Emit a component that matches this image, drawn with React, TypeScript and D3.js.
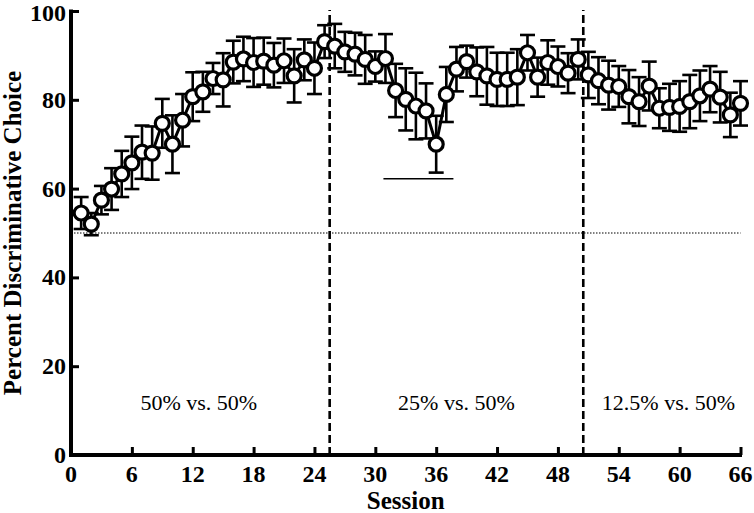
import React, { useEffect, useRef } from 'react';
import * as d3 from 'd3';

// mean percent discriminative choice per session (1..66)
const sessions = d3.range(1, 67);
const means = [
  54.5, 52.0, 57.4, 59.9, 63.3, 65.8, 68.2, 68.0, 74.7, 70.0,
  75.4, 80.7, 81.8, 84.8, 84.5, 88.5, 89.2, 88.4, 88.7, 87.8,
  88.8, 85.4, 89.0, 87.1, 93.1, 92.1, 90.8, 90.3, 89.1, 87.5,
  89.3, 82.1, 80.1, 78.6, 77.5, 70.0, 81.2, 86.9, 88.6, 86.3,
  85.4, 84.6, 84.6, 85.1, 90.6, 85.1, 88.4, 87.5, 86.0, 89.1,
  85.6, 84.3, 83.3, 83.0, 80.7, 79.6, 83.1, 78.1, 78.3, 78.5,
  79.6, 80.9, 82.4, 80.6, 76.6, 79.2,
];
const errors = [
  3.6, 2.5, 3.2, 4.7, 5.2, 5.9, 6.0, 6.0, 5.5, 6.5,
  5.9, 5.5, 4.5, 3.5, 6.0, 4.8, 5.0, 5.5, 5.3, 5.0,
  5.0, 6.0, 4.6, 5.8, 3.7, 5.0, 4.5, 4.8, 5.5, 3.4,
  5.5, 6.0, 7.0, 7.5, 6.2, 6.4, 6.2, 5.0, 3.6, 5.5,
  6.5, 6.0, 6.0, 6.3, 4.0, 4.4, 5.0, 4.5, 4.5, 4.5,
  5.2, 5.3, 5.5, 4.6, 6.0, 5.5, 5.5, 4.5, 5.3, 5.7,
  6.0, 5.7, 5.2, 5.7, 5.0, 5.0,
];

const xTicks = [0, 6, 12, 18, 24, 30, 36, 42, 48, 54, 60, 66];
const yTicks = [0, 20, 40, 60, 80, 100];
const phaseBreaks = [25.5, 50.5];
const phaseLabels = ['50% vs. 50%', '25% vs. 50%', '12.5% vs. 50%'];
const phaseLabelX = [12.6, 38.0, 58.9];
const chanceLevel = 50;
const sigLine = { from: 30.8, to: 37.7, value: 62.2 };

const FONT = "'Liberation Serif', 'Times New Roman', serif";

const App = () => {
  const svgRef = useRef<SVGSVGElement | null>(null);

  useEffect(() => {
    const width = 754;
    const height = 513;
    const svg = d3.select(svgRef.current);
    svg.selectAll('*').remove();
    svg.attr('width', width).attr('height', height);

    const x = d3.scaleLinear().domain([0, 66]).range([71, 740.5]);
    const y = d3.scaleLinear().domain([0, 100]).range([455, 11]);

    const g = svg.append('g');

    // chance line
    g.append('line')
      .attr('x1', x(0)).attr('x2', x(66))
      .attr('y1', y(chanceLevel)).attr('y2', y(chanceLevel))
      .attr('stroke', '#000').attr('stroke-width', 1.2)
      .attr('stroke-dasharray', '1.5,1.5');

    // phase separators
    phaseBreaks.forEach(b => {
      g.append('line')
        .attr('x1', x(b)).attr('x2', x(b))
        .attr('y1', y(0)).attr('y2', 10)
        .attr('stroke', '#000').attr('stroke-width', 2.6)
        .attr('stroke-dasharray', '8,4');
    });

    // phase labels
    phaseLabels.forEach((t, i) => {
      g.append('text')
        .attr('x', x(phaseLabelX[i]))
        .attr('y', 410)
        .attr('text-anchor', 'middle')
        .attr('font-family', FONT)
        .attr('font-size', 22)
        .text(t);
    });

    // significance line
    g.append('line')
      .attr('x1', x(sigLine.from)).attr('x2', x(sigLine.to))
      .attr('y1', y(sigLine.value)).attr('y2', y(sigLine.value))
      .attr('stroke', '#000').attr('stroke-width', 1.5);

    const pts = sessions.map((s, i) => ({ s, m: means[i], e: errors[i] }));

    // error bars
    const eb = g.append('g').attr('stroke', '#000').attr('stroke-width', 2.6);
    pts.forEach(p => {
      eb.append('line')
        .attr('x1', x(p.s)).attr('x2', x(p.s))
        .attr('y1', y(p.m - p.e)).attr('y2', y(p.m + p.e));
      [p.m - p.e, p.m + p.e].forEach(v => {
        eb.append('line')
          .attr('x1', x(p.s) - 7.5).attr('x2', x(p.s) + 7.5)
          .attr('y1', y(v)).attr('y2', y(v));
      });
    });

    // connecting line
    const line = d3.line<{ s: number; m: number }>()
      .x(d => x(d.s))
      .y(d => y(d.m));
    g.append('path')
      .datum(pts)
      .attr('fill', 'none')
      .attr('stroke', '#000')
      .attr('stroke-width', 3)
      .attr('d', line);

    // markers
    g.selectAll('circle.pt')
      .data(pts)
      .enter()
      .append('circle')
      .attr('class', 'pt')
      .attr('cx', d => x(d.s))
      .attr('cy', d => y(d.m))
      .attr('r', 7)
      .attr('fill', '#fff')
      .attr('stroke', '#000')
      .attr('stroke-width', 3.2);

    // axes
    const xAxis = d3.axisBottom(x).tickValues(xTicks).tickSize(-8).tickFormat(() => '');
    const gx = g.append('g').attr('transform', `translate(0,${y(0)})`).call(xAxis);
    gx.select('.domain').attr('stroke-width', 4).attr('d', `M${x(0) - 2},0H${x(66) + 1.5}`);
    gx.selectAll('.tick line').attr('stroke-width', 3);

    const yAxis = d3.axisLeft(y).tickValues(yTicks).tickSize(-8).tickFormat(() => '');
    const gy = g.append('g').attr('transform', `translate(${x(0)},0)`).call(yAxis);
    gy.select('.domain').attr('stroke-width', 4).attr('d', `M0,${y(0) + 2}V${y(100) - 1.5}`);
    gy.selectAll('.tick line').attr('stroke-width', 3);

    xTicks.forEach(t => {
      g.append('text')
        .attr('x', x(t)).attr('y', 482)
        .attr('text-anchor', 'middle')
        .attr('font-family', FONT).attr('font-weight', 'bold').attr('font-size', 24)
        .text(t);
    });
    yTicks.forEach(t => {
      g.append('text')
        .attr('x', 66).attr('y', Math.max(y(t), 13))
        .attr('text-anchor', 'end')
        .attr('dominant-baseline', 'central')
        .attr('font-family', FONT).attr('font-weight', 'bold').attr('font-size', 24)
        .text(t);
    });

    g.append('text')
      .attr('x', (x(0) + x(66)) / 2).attr('y', 509)
      .attr('text-anchor', 'middle')
      .attr('font-family', FONT).attr('font-weight', 'bold').attr('font-size', 25)
      .text('Session');

    g.append('text')
      .attr('transform', `translate(21,${(y(0) + y(100)) / 2}) rotate(-90)`)
      .attr('text-anchor', 'middle')
      .attr('font-family', FONT).attr('font-weight', 'bold').attr('font-size', 25)
      .text('Percent Discriminative Choice');
  }, []);

  return (
    <div style={{ position: 'absolute', left: 0, top: 0, width: 754, height: 513, background: '#fff' }}>
      <svg ref={svgRef} style={{ display: 'block' }} />
    </div>
  );
};

export default App;
